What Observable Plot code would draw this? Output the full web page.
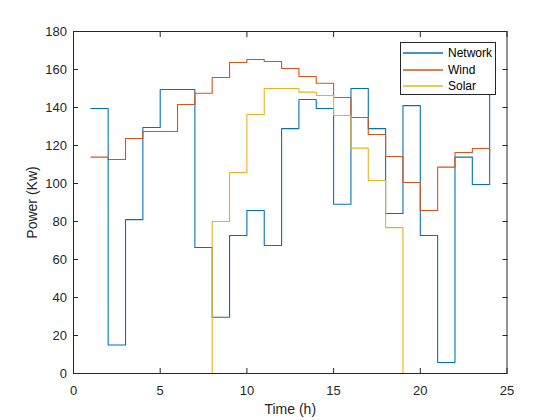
<!DOCTYPE html>
<html>
<head>
<meta charset="utf-8">
<script src="https://cdn.jsdelivr.net/npm/d3@7"></script>
<script src="https://cdn.jsdelivr.net/npm/@observablehq/plot@0.6"></script>
<style>
  body { margin: 0; background: #fff; }
  #wrap { position: relative; width: 560px; height: 420px; font-family: "Liberation Sans", Arial, sans-serif; }
  #legend { position: absolute; left: 400px; top: 42px; width: 96px; height: 53px; border: 1px solid #262626; background: #fff; box-sizing: border-box; font-size: 12px; color: #000; }
  .row { position: absolute; left: 0; height: 16px; display: flex; align-items: center; }
  .swatch { width: 40px; height: 0; margin-left: 2px; margin-right: 5px; border-top: 2px solid; opacity: 0.75; }
</style>
</head>
<body>
<div id="wrap"></div>
<script>
const hours = [1, 2, 3, 4, 5, 6, 7, 8, 9, 10, 11, 12, 13, 14, 15, 16, 17, 18, 19, 20, 21, 22, 23, 24];
const network = [139.5, 15, 81, 129.5, 149.5, 149.5, 66.3, 29.6, 72.6, 85.8, 67.4, 128.9, 144.2, 139.5, 89.1, 150, 128.9, 84.2, 141, 72.6, 5.8, 113.9, 99.5, 160];
const wind = [113.9, 112.6, 123.7, 127.4, 127.4, 141.6, 147.5, 155.8, 163.7, 165.3, 164.2, 160.5, 156.3, 152.8, 145.3, 134.7, 125.8, 114.2, 100.5, 85.8, 108.6, 116.3, 118.4, 115.8];
const solar = [0, 0, 0, 0, 0, 0, 0, 80, 105.8, 136.3, 150, 150, 148.1, 146.3, 135.8, 118.6, 101.6, 76.8, 0, 0, 0, 0, 0, 0];
const seriesNames = ["Network", "Wind", "Solar"];
const seriesColors = ["#0072BD", "#D95319", "#EDB120"];
const xTicks = [0, 5, 10, 15, 20, 25];
const yTicks = [0, 20, 40, 60, 80, 100, 120, 140, 160, 180];

const rows = [];
[network, wind, solar].forEach((vals, i) =>
  vals.forEach((v, j) => rows.push({series: seriesNames[i], hour: hours[j], power: v}))
);

const axisColor = "#262626";

const chart = Plot.plot({
  width: 560,
  height: 420,
  marginLeft: 73,
  marginRight: 53.5,
  marginTop: 31,
  marginBottom: 47,
  style: {fontFamily: "'Liberation Sans', Arial, sans-serif", fontSize: "13px", color: axisColor, background: "#fff"},
  x: {domain: [0, 25]},
  y: {domain: [0, 180]},
  color: {domain: seriesNames, range: seriesColors},
  marks: [
    Plot.line(rows, {x: "hour", y: "power", z: "series", stroke: "series", curve: "step-after", strokeWidth: 1.1}),
    Plot.frame({stroke: axisColor}),
    Plot.axisX({ticks: xTicks, tickSize: -5, tickPadding: 17.5, stroke: axisColor, fill: axisColor,
      label: "Time (h)", labelAnchor: "center", labelArrow: "none", labelOffset: 40, fontSize: 13}),
    Plot.axisX({anchor: "top", ticks: xTicks, tickSize: -5, stroke: axisColor, fill: "none", label: null}),
    Plot.axisY({ticks: yTicks, tickSize: -5, tickPadding: 11.6, stroke: axisColor, fill: axisColor,
      label: "Power (Kw)", labelAnchor: "center", labelArrow: "none", labelOffset: 46, fontSize: 13}),
    Plot.axisY({anchor: "right", ticks: yTicks, tickSize: -5, stroke: axisColor, fill: "none", label: null})
  ]
});

const wrap = document.getElementById("wrap");
wrap.appendChild(chart);
chart.querySelectorAll('[aria-label="x-axis label"] text, [aria-label="y-axis label"] text').forEach(t => t.style.fontSize = "14px");

const legend = document.createElement("div");
legend.id = "legend";
seriesNames.forEach((name, i) => {
  const row = document.createElement("div");
  row.className = "row";
  row.style.top = (2 + i * 16.6) + "px";
  const sw = document.createElement("span");
  sw.className = "swatch";
  sw.style.borderTopColor = seriesColors[i];
  const label = document.createElement("span");
  label.textContent = name;
  row.appendChild(sw);
  row.appendChild(label);
  legend.appendChild(row);
});
wrap.appendChild(legend);
</script>
</body>
</html>
